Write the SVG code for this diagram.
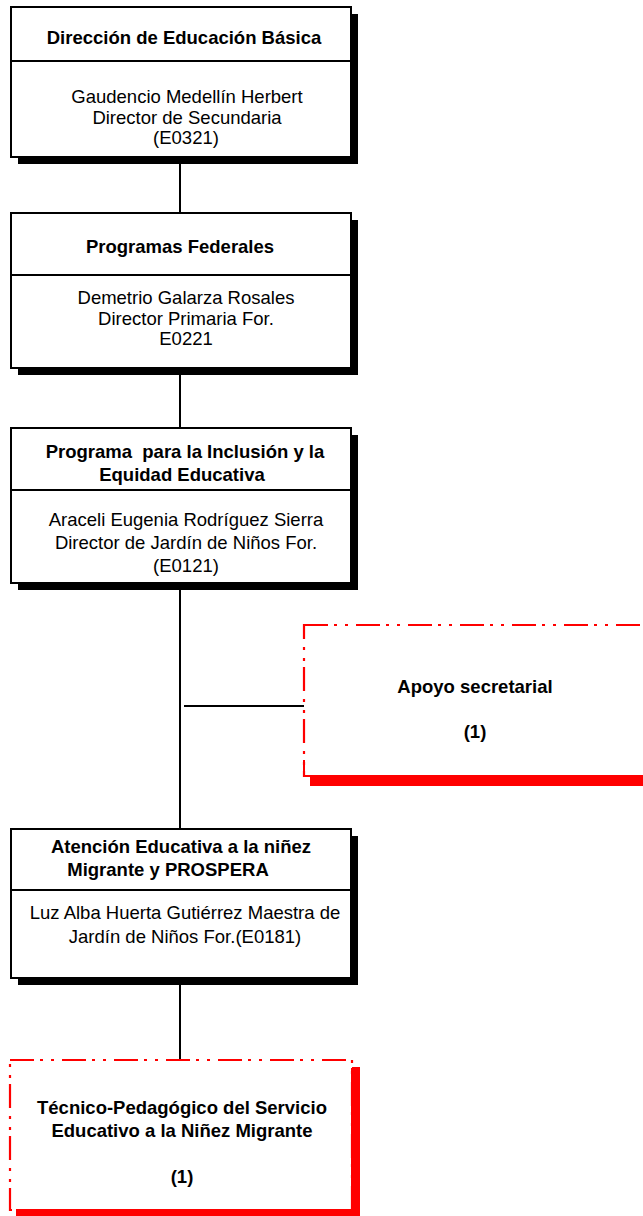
<svg xmlns="http://www.w3.org/2000/svg" width="643" height="1216" viewBox="0 0 643 1216">
<style>
text{font-family:"Liberation Sans",Arial,sans-serif;font-size:18.5px;fill:#000;text-anchor:middle}
.b{font-weight:bold}
.box{fill:#fff;stroke:#000;stroke-width:2}
.sh{fill:#000}
.div{stroke:#000;stroke-width:2}
.conn{stroke:#000;stroke-width:2;fill:none}
.dd{fill:#fff;stroke:#f00;stroke-width:2.2;stroke-dasharray:24 6 3 8 3 8}
.rs{fill:#f00}
.rl{stroke:#f00;stroke-width:2}
</style>
<g id="connectors">
<line class="conn" x1="180" y1="157" x2="180" y2="213"/>
<line class="conn" x1="180" y1="368" x2="180" y2="428"/>
<line class="conn" x1="180" y1="583" x2="180" y2="829"/>
<line class="conn" x1="184" y1="706" x2="304" y2="706"/>
<line class="conn" x1="180" y1="978" x2="180" y2="1060"/>
</g>
<g id="n1">
<rect class="sh" x="18" y="14" width="340" height="150"/>
<rect class="box" x="11" y="7" width="340" height="150"/>
<line class="div" x1="11" y1="61" x2="351" y2="61"/>
<text class="b" x="184" y="44">Dirección de Educación Básica</text>
<text x="187" y="103">Gaudencio Medellín Herbert</text>
<text x="187" y="124">Director de Secundaria</text>
<text x="186" y="144">(E0321)</text>
</g>
<g id="n2">
<rect class="sh" x="18" y="220" width="340" height="155"/>
<rect class="box" x="11" y="213" width="340" height="155"/>
<line class="div" x1="11" y1="275" x2="351" y2="275"/>
<text class="b" x="180" y="253">Programas Federales</text>
<text x="186" y="304">Demetrio Galarza Rosales</text>
<text x="186" y="325">Director Primaria For.</text>
<text x="186" y="345">E0221</text>
</g>
<g id="n3">
<rect class="sh" x="18" y="435" width="340" height="155"/>
<rect class="box" x="11" y="428" width="340" height="155"/>
<line class="div" x1="11" y1="490" x2="351" y2="490"/>
<text class="b" x="185" y="458" xml:space="preserve">Programa  para la Inclusión y la</text>
<text class="b" x="182" y="481">Equidad Educativa</text>
<text x="186" y="526">Araceli Eugenia Rodríguez Sierra</text>
<text x="186" y="549">Director de Jardín de Niños For.</text>
<text x="186" y="572">(E0121)</text>
</g>
<g id="n4">
<rect class="sh" x="18" y="836" width="340" height="149"/>
<rect class="box" x="11" y="829" width="340" height="149"/>
<line class="div" x1="11" y1="890" x2="351" y2="890"/>
<text class="b" x="181" y="853">Atención Educativa a la niñez</text>
<text class="b" x="168" y="876">Migrante y PROSPERA</text>
<text x="185" y="919">Luz Alba Huerta Gutiérrez Maestra de</text>
<text x="185" y="943">Jardín de Niños For.(E0181)</text>
</g>
<g id="apoyo">
<rect class="rs" x="310" y="776" width="340" height="10"/>
<rect class="dd" x="304" y="625" width="350" height="151"/>
<line class="rl" x1="304" y1="776" x2="650" y2="776"/>
<line class="rl" x1="304" y1="760" x2="304" y2="777"/>
<text class="b" x="475" y="693">Apoyo secretarial</text>
<text class="b" x="475" y="738">(1)</text>
</g>
<g id="tecnico">
<rect class="rs" x="352" y="1067" width="8" height="149"/>
<rect class="rs" x="16" y="1210" width="344" height="6"/>
<rect class="dd" x="10" y="1060" width="342" height="150"/>
<line class="rl" x1="352" y1="1068" x2="352" y2="1211"/>
<line class="rl" x1="16" y1="1210" x2="352" y2="1210"/>
<text class="b" x="182" y="1114">Técnico-Pedagógico del Servicio</text>
<text class="b" x="182" y="1137">Educativo a la Niñez Migrante</text>
<text class="b" x="182" y="1183">(1)</text>
</g>
</svg>
